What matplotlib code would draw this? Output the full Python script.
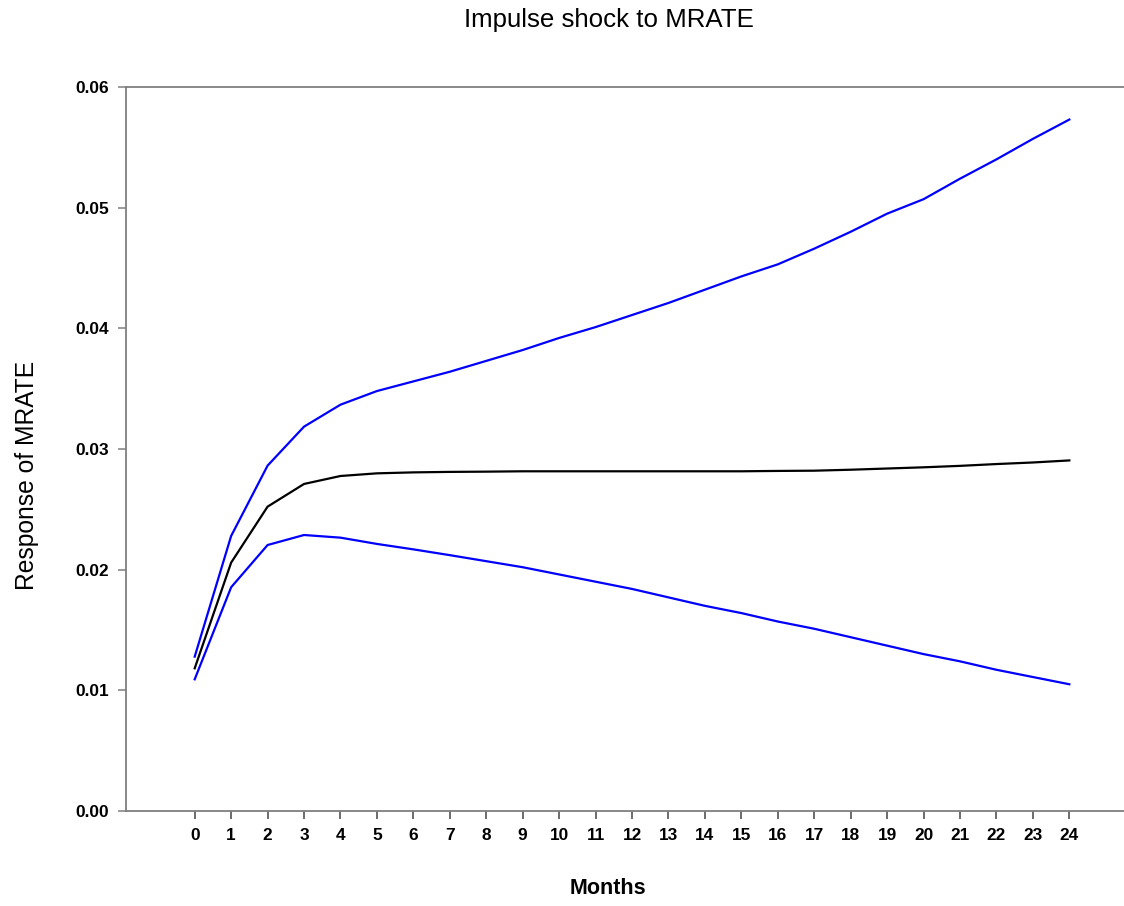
import matplotlib
matplotlib.use('Agg')
import matplotlib.pyplot as plt
import numpy as np

plt.rcParams['font.family'] = ['Liberation Sans', 'DejaVu Sans']

# impulse response and bands
months = list(range(25))
response = [0.01182, 0.02058, 0.02522, 0.0271, 0.02776, 0.02798, 0.02806, 0.0281, 0.02812,
            0.02815, 0.02815, 0.02815, 0.02815, 0.02815, 0.02815, 0.02815, 0.02818, 0.0282,
            0.02828, 0.02838, 0.02848, 0.0286, 0.02875, 0.02888, 0.02905]
upper = [0.01279, 0.02279, 0.02862, 0.03185, 0.03367, 0.0348, 0.0356, 0.0364, 0.0373,
         0.0382, 0.0392, 0.0401, 0.0411, 0.0421, 0.0432, 0.0443, 0.0453, 0.0466,
         0.0480, 0.0495, 0.0507, 0.0524, 0.0540, 0.0557, 0.0573]
lower = [0.01091, 0.01854, 0.02204, 0.02287, 0.02265, 0.02213, 0.02168, 0.0212, 0.0207,
         0.0202, 0.0196, 0.0190, 0.0184, 0.0177, 0.0170, 0.0164, 0.0157, 0.0151,
         0.0144, 0.0137, 0.0130, 0.0124, 0.0117, 0.0111, 0.0105]
yticks = [0.00, 0.01, 0.02, 0.03, 0.04, 0.05, 0.06]

fig = plt.figure(figsize=(11.24, 9.06), dpi=100, facecolor='w')
ax = fig.add_axes([0.1121, 0.1049, 0.8879, 0.7991])

ax.plot(months, upper, color='#0000ff', lw=1.6)
ax.plot(months, lower, color='#0000ff', lw=1.6)
ax.plot(months, response, color='black', lw=1.6)

ax.set_xlim(-1.885, 25.5)
ax.set_ylim(0, 0.06)
ax.set_xticks(months)
ax.set_yticks(yticks)
ax.set_yticklabels(['%.2f' % v for v in yticks])

for s in ['left', 'top', 'bottom']:
    ax.spines[s].set_color('#7f7f7f')
    ax.spines[s].set_linewidth(1.3)
ax.spines['right'].set_visible(False)

ax.tick_params(axis='x', direction='out', length=6, width=1.1, color='#444444', pad=6)
ax.tick_params(axis='y', direction='out', length=6, width=1.1, color='#7f7f7f', pad=6)
for lab in ax.get_xticklabels() + ax.get_yticklabels():
    lab.set_fontweight('bold')
    lab.set_fontsize(12.4)

fig.text(0.542, 0.978, 'Impulse shock to MRATE', ha='center', va='center', fontsize=18.6)
fig.text(0.541, 0.0188, 'Months', ha='center', va='center', fontsize=15.5, fontweight='bold')
fig.text(0.024, 0.4757, 'Response of MRATE', ha='center', va='center', fontsize=17.7, rotation=90)

fig.savefig('out.png', dpi=100)
plt.close()
